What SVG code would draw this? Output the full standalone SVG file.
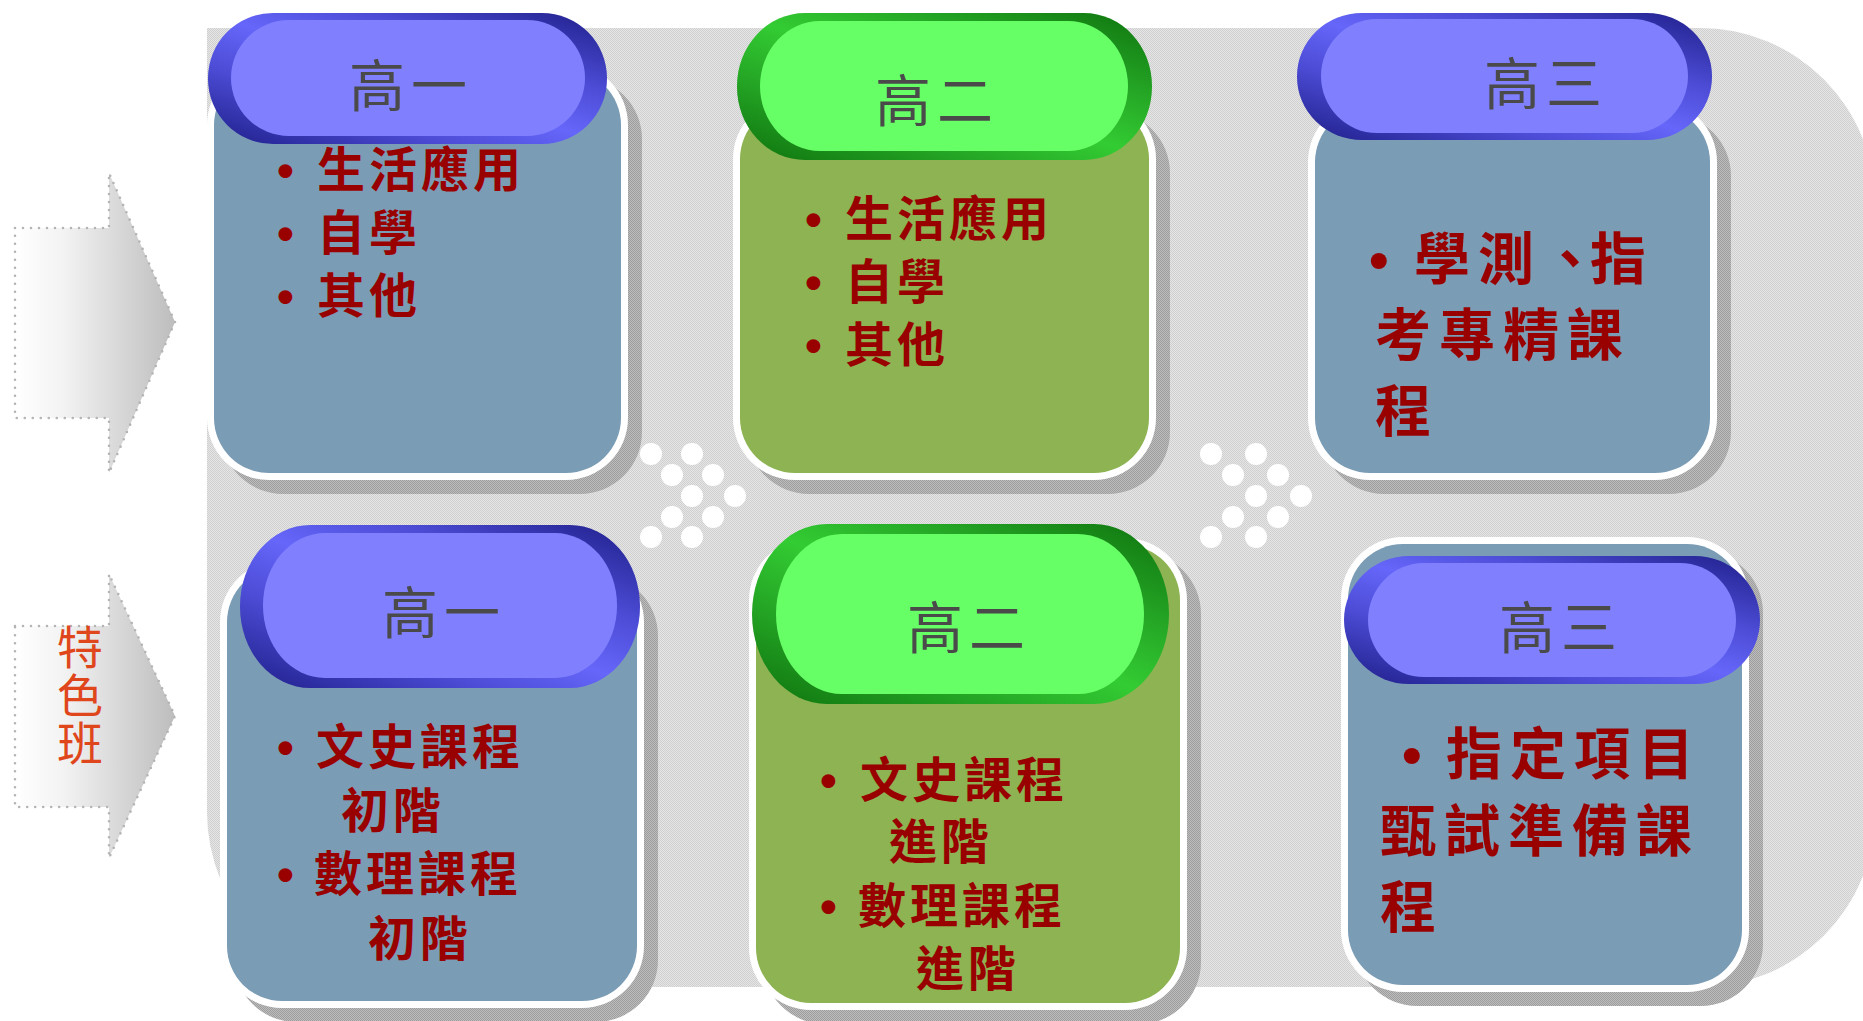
<svg xmlns="http://www.w3.org/2000/svg" width="1863" height="1021" viewBox="0 0 1863 1021">
<defs>
  <pattern id="stip" width="2" height="2" patternUnits="userSpaceOnUse">
    <rect width="2" height="2" fill="#e6e6e6"/>
    <rect width="1" height="1" fill="#cfcfcf"/>
    <rect x="1" y="1" width="1" height="1" fill="#cfcfcf"/>
  </pattern>
  <pattern id="shadowPat" width="2" height="2" patternUnits="userSpaceOnUse">
    <rect width="2" height="2" fill="#bdbdbd"/>
    <rect width="1" height="1" fill="#9d9d9d"/>
    <rect x="1" y="1" width="1" height="1" fill="#9d9d9d"/>
  </pattern>
  <linearGradient id="arrowGrad" x1="0" y1="0" x2="1" y2="0">
    <stop offset="0" stop-color="#ffffff"/>
    <stop offset="0.3" stop-color="#f3f3f3"/>
    <stop offset="1" stop-color="#bdbdbd"/>
  </linearGradient>
  <linearGradient id="blueRing" x1="0" y1="1" x2="1" y2="0">
    <stop offset="0" stop-color="#1e1e88"/>
    <stop offset="0.3" stop-color="#4c4cd6"/>
    <stop offset="0.5" stop-color="#6666fa"/>
    <stop offset="0.7" stop-color="#4c4cd6"/>
    <stop offset="1" stop-color="#1e1e88"/>
  </linearGradient>
  <linearGradient id="greenRing" x1="0" y1="1" x2="1" y2="0">
    <stop offset="0" stop-color="#0e720e"/>
    <stop offset="0.3" stop-color="#26a926"/>
    <stop offset="0.5" stop-color="#33cc33"/>
    <stop offset="0.7" stop-color="#26a926"/>
    <stop offset="1" stop-color="#0e720e"/>
  </linearGradient>
  <style>
    .shadow { fill: url(#shadowPat); }
    .frame { fill: #ffffff; }
    .bodyBlue { fill: #7b9cb5; }
    .bodyGreen { fill: #8db352; }
    .ringBlue { fill: url(#blueRing); }
    .ringGreen { fill: url(#greenRing); }
    .pillBlue { fill: #8080ff; }
    .pillGreen { fill: #66ff66; }
    .title { font-family: "Liberation Sans", "Noto Sans CJK TC", "Noto Sans CJK SC", sans-serif; font-size: 56px; fill: #4a4a4a; text-anchor: middle; letter-spacing: 6px; }
    .item { font-family: "Liberation Sans", "Noto Sans CJK TC", "Noto Sans CJK SC", sans-serif; font-size: 48px; font-weight: 700; fill: #990000; letter-spacing: 4px; }
    .itemL { font-family: "Liberation Sans", "Noto Sans CJK TC", "Noto Sans CJK SC", sans-serif; font-size: 56px; font-weight: 700; fill: #990000; letter-spacing: 8px; }
    .bul { font-family: "Liberation Sans", Arial, sans-serif; font-weight: 700; letter-spacing: 0; }
    .dot { fill: #ffffff; }
    .arrow { fill: url(#arrowGrad); stroke: #b4b4b4; stroke-width: 2.6; stroke-dasharray: 0 8; stroke-linecap: round; }
    .side { font-family: "Noto Sans CJK TC", "Noto Sans CJK SC", sans-serif; font-size: 46px; fill: #e0461c; writing-mode: vertical-rl; letter-spacing: 2px; }
  </style>
</defs>

<rect width="1863" height="1021" fill="#ffffff"/>

<g id="background">
  <path d="M207,28 H1700 A175,175 0 0 1 1875,203 V812 A175,175 0 0 1 1700,987 H382 A175,175 0 0 1 207,812 Z" fill="url(#stip)"/>
</g>

<g id="dots-left">
  <circle class="dot" cx="651" cy="454" r="11"/>
  <circle class="dot" cx="692" cy="454" r="11"/>
  <circle class="dot" cx="672" cy="475" r="11"/>
  <circle class="dot" cx="713" cy="475" r="11"/>
  <circle class="dot" cx="692" cy="496" r="11"/>
  <circle class="dot" cx="735" cy="496" r="11"/>
  <circle class="dot" cx="672" cy="517" r="11"/>
  <circle class="dot" cx="713" cy="517" r="11"/>
  <circle class="dot" cx="651" cy="537" r="11"/>
  <circle class="dot" cx="692" cy="537" r="11"/>
</g>
<g id="dots-right">
  <circle class="dot" cx="1211" cy="454" r="11"/>
  <circle class="dot" cx="1256" cy="454" r="11"/>
  <circle class="dot" cx="1233" cy="475" r="11"/>
  <circle class="dot" cx="1278" cy="475" r="11"/>
  <circle class="dot" cx="1256" cy="496" r="11"/>
  <circle class="dot" cx="1301" cy="496" r="11"/>
  <circle class="dot" cx="1233" cy="517" r="11"/>
  <circle class="dot" cx="1278" cy="517" r="11"/>
  <circle class="dot" cx="1211" cy="537" r="11"/>
  <circle class="dot" cx="1256" cy="537" r="11"/>
</g>

<g id="arrow-top">
  <path class="arrow" d="M15,228 H109 V173 L175,322 L109,473 V418 H15 Z"/>
</g>
<g id="arrow-special">
  <path class="arrow" d="M15,626 H109 V574 L175,716 L109,858 V807 H15 Z"/>
  <text class="side" x="80" y="624">特色班</text>
</g>

<g id="card-g1-regular">
  <rect class="shadow" x="221" y="77" width="421" height="417" rx="62"/>
  <rect class="frame" x="207" y="63" width="421" height="417" rx="62"/>
  <rect class="bodyBlue" x="214" y="70" width="407" height="403" rx="55"/>
  <rect class="ringBlue" x="208" y="13" width="399" height="131" rx="65" ry="65"/>
  <rect class="pillBlue" x="231" y="20" width="354" height="116" rx="58" ry="58"/>
  <text class="title" x="411" y="106">高一</text>
  <text class="item"><tspan class="bul" x="277" y="187">•</tspan><tspan x="317" y="187">生活應用</tspan><tspan class="bul" x="277" y="250">•</tspan><tspan x="317" y="250">自學</tspan><tspan class="bul" x="277" y="313">•</tspan><tspan x="317" y="313">其他</tspan></text>
</g>

<g id="card-g2-regular">
  <rect class="shadow" x="747" y="111" width="423" height="383" rx="62"/>
  <rect class="frame" x="733" y="97" width="423" height="383" rx="62"/>
  <rect class="bodyGreen" x="740" y="104" width="409" height="369" rx="55"/>
  <rect class="ringGreen" x="737" y="13" width="415" height="147" rx="68" ry="73"/>
  <rect class="pillGreen" x="760" y="21" width="368" height="130" rx="60" ry="65"/>
  <text class="title" x="937" y="121">高二</text>
  <text class="item"><tspan class="bul" x="805" y="236">•</tspan><tspan x="845" y="236">生活應用</tspan><tspan class="bul" x="805" y="299">•</tspan><tspan x="845" y="299">自學</tspan><tspan class="bul" x="805" y="362">•</tspan><tspan x="845" y="362">其他</tspan></text>
</g>

<g id="card-g3-regular">
  <rect class="shadow" x="1322" y="114" width="409" height="380" rx="62"/>
  <rect class="frame" x="1308" y="100" width="409" height="380" rx="62"/>
  <rect class="bodyBlue" x="1315" y="107" width="395" height="366" rx="55"/>
  <rect class="ringBlue" x="1297" y="13" width="415" height="127" rx="65" ry="63"/>
  <rect class="pillBlue" x="1321" y="19" width="367" height="114" rx="56" ry="57"/>
  <text class="title" x="1546" y="104">高三</text>
  <text class="itemL"><tspan class="bul" x="1369" y="279">•</tspan><tspan x="1414" y="279">學測</tspan><tspan x="1542" y="279" letter-spacing="-8">、指</tspan><tspan x="1375" y="355">考專精課</tspan><tspan x="1375" y="431">程</tspan></text>
</g>

<g id="card-g1-special">
  <rect class="shadow" x="234" y="574" width="424" height="448" rx="62"/>
  <rect class="frame" x="220" y="560" width="424" height="448" rx="62"/>
  <rect class="bodyBlue" x="227" y="567" width="410" height="434" rx="55"/>
  <rect class="ringBlue" x="240" y="525" width="400" height="163" rx="70" ry="81"/>
  <rect class="pillBlue" x="263" y="533" width="354" height="145" rx="62" ry="72"/>
  <text class="title" x="444" y="633">高一</text>
  <text class="item"><tspan class="bul" x="277" y="764">•</tspan><tspan x="316" y="764">文史課程</tspan><tspan x="341" y="828">初階</tspan><tspan class="bul" x="277" y="891">•</tspan><tspan x="314" y="891">數理課程</tspan><tspan x="368" y="956">初階</tspan></text>
</g>

<g id="card-g2-special">
  <rect class="shadow" x="763" y="552" width="438" height="472" rx="62"/>
  <rect class="frame" x="749" y="538" width="438" height="472" rx="62"/>
  <rect class="bodyGreen" x="756" y="545" width="424" height="458" rx="55"/>
  <rect class="ringGreen" x="752" y="524" width="417" height="180" rx="75" ry="90"/>
  <rect class="pillGreen" x="776" y="534" width="368" height="160" rx="66" ry="80"/>
  <text class="title" x="969" y="648">高二</text>
  <text class="item"><tspan class="bul" x="820" y="797">•</tspan><tspan x="860" y="797">文史課程</tspan><tspan x="889" y="859">進階</tspan><tspan class="bul" x="820" y="923">•</tspan><tspan x="858" y="923">數理課程</tspan><tspan x="916" y="986">進階</tspan></text>
</g>

<g id="card-g3-special">
  <rect class="shadow" x="1355" y="551" width="408" height="455" rx="62"/>
  <rect class="frame" x="1341" y="537" width="408" height="455" rx="62"/>
  <rect class="bodyBlue" x="1348" y="544" width="394" height="441" rx="55"/>
  <rect class="ringBlue" x="1344" y="556" width="416" height="128" rx="65" ry="64"/>
  <rect class="pillBlue" x="1368" y="563" width="368" height="114" rx="56" ry="57"/>
  <text class="title" x="1561" y="648">高三</text>
  <text class="itemL"><tspan class="bul" x="1402" y="774">•</tspan><tspan x="1446" y="774">指定項目</tspan><tspan x="1380" y="851">甄試準備課</tspan><tspan x="1380" y="927">程</tspan></text>
</g>

<g id="connectors"></g>
</svg>
